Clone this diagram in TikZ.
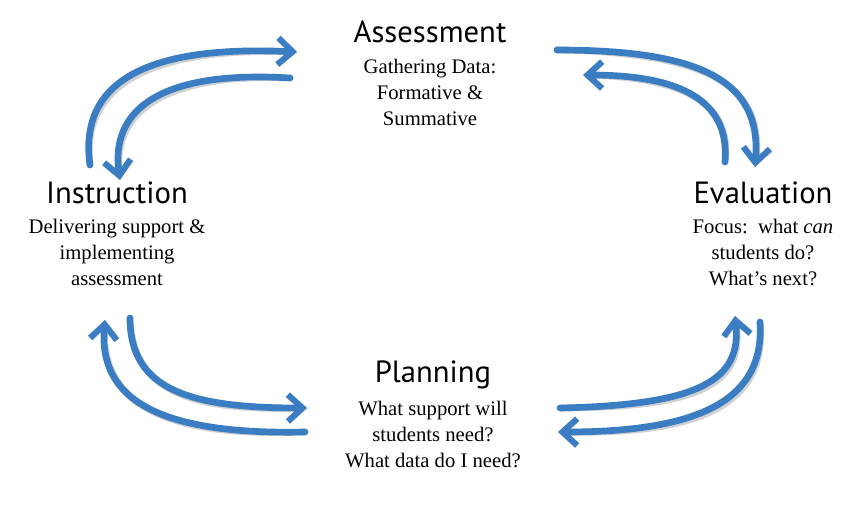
\documentclass[tikz,border=0pt]{standalone}
\usepackage{fontspec}
\setmainfont{Liberation Serif}
\newfontfamily\titlefont{PT Sans}
\usetikzlibrary{arrows.meta}
\definecolor{arrowblue}{HTML}{3A7DC2}
\tikzset{
  cyc/.style={line width=5pt, draw=arrowblue, line cap=round, -{Straight Barb[length=11pt,width=20pt,line width=4.5pt]}},
  shad/.style={line width=5pt, draw=black, opacity=0.18, line cap=round, -{Straight Barb[length=11pt,width=20pt,line width=4.5pt]}},
  ttl/.style={font=\titlefont\fontsize{23}{26}\selectfont, anchor=center},
  bdy/.style={font=\fontsize{15.5}{19.5}\selectfont, align=center, anchor=north}
}
\begin{document}
\begin{tikzpicture}[x=0.75pt,y=-0.75pt]
\useasboundingbox (0,0) rectangle (864,504);
\node[ttl] (ta) at (430,32) {Assessment};
\node[bdy] (ba) at (430,54) {Gathering Data:\\Formative \&\\Summative};
\node[ttl] (ti) at (117,193) {Instruction};
\node[bdy] (bi) at (117,214) {Delivering support \&\\implementing\\assessment};
\node[ttl] (te) at (763,193) {Evaluation};
\node[bdy] (be) at (763,214) {Focus:\ \ what \textit{can}\\students do?\\What’s next?};
\node[ttl] (tp) at (433,375) {Planning};
\node[bdy] (bp) at (433,396) {What support will\\students need?\\What data do I need?};
% arrow anchors
\coordinate (a1) at (90,165); \coordinate (a2) at (297,52);
\coordinate (b1) at (290,78); \coordinate (b2) at (120,180);
\coordinate (c1) at (557,50); \coordinate (c2) at (755,167);
\coordinate (d1) at (725,162); \coordinate (d2) at (583,75);
\coordinate (e1) at (760,322); \coordinate (e2) at (558,432);
\coordinate (f1) at (560,408); \coordinate (f2) at (735,316);
\coordinate (g1) at (130,318); \coordinate (g2) at (307,408);
\coordinate (h1) at (305,432); \coordinate (h2) at (105,320);
\foreach \s/\dx in {shad/3,cyc/0}{
\begin{scope}[shift={(\dx,\dx)}]
\draw[\s] (a1) .. controls (78,80) and (150,45) .. (a2);
\draw[\s] (b1) .. controls (160,70) and (110,110) .. (b2);
\draw[\s] (c1) .. controls (700,50) and (762,80) .. (c2);
\draw[\s] (d1) .. controls (730,100) and (680,75) .. (d2);
\draw[\s] (e1) .. controls (765,400) and (700,432) .. (e2);
\draw[\s] (f1) .. controls (700,405) and (742,380) .. (f2);
\draw[\s] (g1) .. controls (130,390) and (190,408) .. (g2);
\draw[\s] (h1) .. controls (160,435) and (98,400) .. (h2);
\end{scope}}
\end{tikzpicture}
\end{document}
